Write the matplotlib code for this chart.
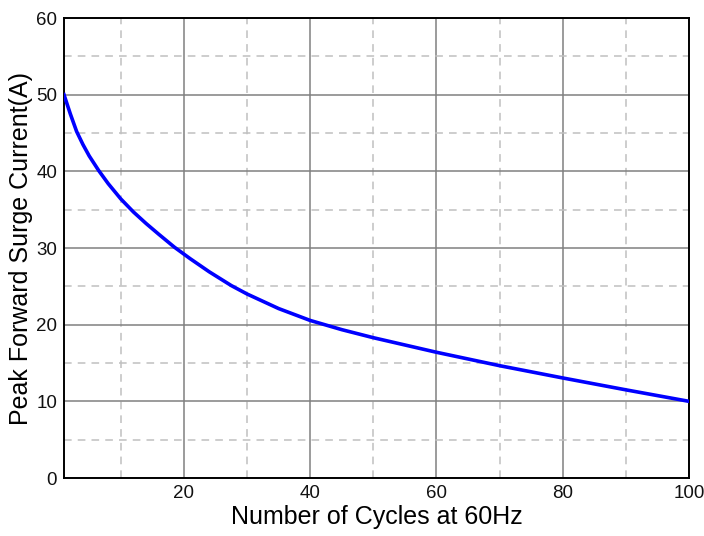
import matplotlib
matplotlib.use('Agg')
import matplotlib.pyplot as plt
from matplotlib.ticker import MultipleLocator

# values
cycles = [1, 2, 3, 4, 5, 6.5, 8, 10, 12, 14, 16, 18.5, 21, 24, 27.5, 30,
          35, 40, 45, 50, 60, 70, 80, 90, 100]
surge_current = [50, 47.5, 45.2, 43.5, 42.0, 40.1, 38.4, 36.4, 34.7, 33.2, 31.8, 30.1, 28.6, 26.9, 25.1, 24.0,
                 22.1, 20.55, 19.35, 18.3, 16.4, 14.65, 13.05, 11.5, 10]

x_ticks = [20, 40, 60, 80, 100]
y_ticks = [0, 10, 20, 30, 40, 50, 60]

plt.rcParams['font.family'] = ['Liberation Sans', 'DejaVu Sans']

fig = plt.figure(figsize=(7.04, 5.36), dpi=100)
ax = fig.add_axes([0.0909, 0.1082, 0.8878, 0.8582])

ax.plot(cycles, surge_current, color='#0000ff', linewidth=2.6, solid_joinstyle='round', zorder=3)

ax.set_xlim(1, 100)
ax.set_ylim(0, 60)
ax.set_xticks(x_ticks)
ax.set_yticks(y_ticks)
ax.xaxis.set_minor_locator(MultipleLocator(10))
ax.yaxis.set_minor_locator(MultipleLocator(5))

#solid major grid, dashed minor grid
ax.grid(which='major', color='#808080', linestyle='-', linewidth=1.1)
ax.grid(which='minor', color='#c0c0c0', linestyle=(0, (5, 4)), linewidth=1.1)
ax.set_axisbelow(True)

ax.tick_params(which='both', length=0, labelsize=13.5, colors='#111111', pad=5)
for s in ax.spines.values():
    s.set_linewidth(1.4)
    s.set_color('black')

ax.set_xlabel('Number of Cycles at 60Hz', fontsize=18, labelpad=2)
ax.set_ylabel('Peak Forward Surge Current(A)', fontsize=18, labelpad=2)

fig.savefig('out.png', dpi=100)
